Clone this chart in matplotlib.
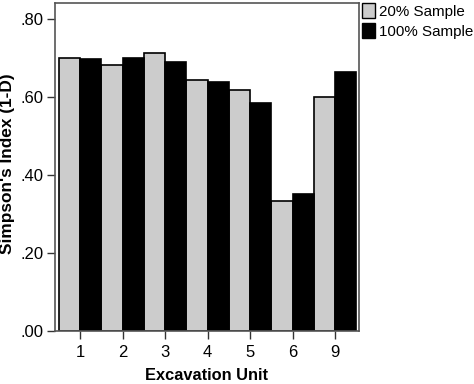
import numpy as np
import matplotlib
matplotlib.use("Agg")
import matplotlib.pyplot as plt
from matplotlib.patches import Patch

plt.rcParams["font.family"] = ["Liberation Sans", "DejaVu Sans"]

units = ["1", "2", "3", "4", "5", "6", "9"]
sample20 = [0.700, 0.681, 0.712, 0.642, 0.618, 0.334, 0.599]
sample100 = [0.698, 0.700, 0.689, 0.637, 0.584, 0.350, 0.663]

fig = plt.figure(figsize=(4.74, 3.84), dpi=100)
ax = fig.add_axes([0.116, 0.138, 0.641, 0.854])

x = np.arange(len(units))
w = 0.5
ax.bar(x - w / 2, sample20, w, color="#cccccc", edgecolor="black", linewidth=1.2)
ax.bar(x + w / 2, sample100, w, color="black", edgecolor="black", linewidth=1.2)

ax.set_xlim(-0.59, 6.56)
ax.set_ylim(0, 0.84)
ax.set_yticks([0, 0.2, 0.4, 0.6, 0.8])
ax.set_yticklabels([".00", ".20", ".40", ".60", ".80"])
ax.set_xticks(x)
ax.set_xticklabels(units)
ax.tick_params(labelsize=12, length=6, width=1, color="#333333", pad=2)
ax.tick_params(axis="x", pad=4)

for s in ax.spines.values():
    s.set_color("#555555")
    s.set_linewidth(1.2)

ax.set_xlabel("Excavation Unit", fontsize=11.8, fontweight="bold", labelpad=6)
ax.set_ylabel("Simpson's Index (1-D)", fontsize=12.4, fontweight="bold")
ax.yaxis.set_label_coords(-0.13, 0.51)

handles = [Patch(facecolor="#cccccc", edgecolor="black", label="20% Sample"),
           Patch(facecolor="black", edgecolor="black", label="100% Sample")]
fig.legend(handles=handles, loc="upper left", bbox_to_anchor=(0.761, 0.995),
           frameon=False, fontsize=10.9, handlelength=0.85, handleheight=1.15,
           handletextpad=0.25, labelspacing=0.25, borderaxespad=0, borderpad=0.1)

fig.savefig("out.png", dpi=100)
